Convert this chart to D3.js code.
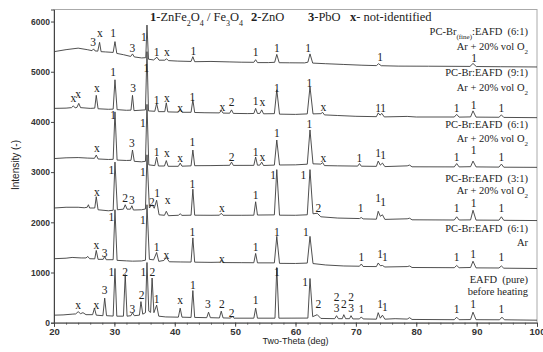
<!DOCTYPE html>
<html>
<head>
<meta charset="utf-8">
<script src="https://cdn.jsdelivr.net/npm/d3@7"></script>
<style>
  body { margin: 0; background: #fff; }
  svg { display: block; }
</style>
</head>
<body>
<svg id="chart" width="543" height="352"></svg>
<script>
// XRD patterns, [2-theta (deg), intensity]
const fine61O2 = [[20,5400],[22,5440],[24,5470],[25.5,5440],[26.3,5420],[26.55,5455],[26.8,5415],[27.25,5410],[27.55,5585],[27.8,5400],[28.5,5395],[29.8,5385],[30.1,5600],[30.4,5365],[31.5,5340],[32.7,5305],[33,5355],[33.3,5295],[34.5,5275],[35.2,5280],[35.4,5930],[35.65,5250],[36.5,5235],[37.05,5290],[37.4,5230],[38.35,5230],[38.65,5258],[38.95,5222],[40.5,5212],[42.7,5205],[43,5300],[43.3,5200],[46,5205],[49,5196],[51,5190],[53.1,5188],[53.4,5240],[53.7,5182],[55.5,5182],[56.55,5188],[56.9,5345],[57.3,5180],[59,5178],[61.5,5176],[62.05,5190],[62.4,5355],[62.85,5172],[65,5160],[68,5145],[71,5130],[73.4,5122],[73.75,5160],[74.2,5120],[77,5112],[82,5110],[88.9,5106],[89.4,5165],[89.95,5104],[94,5100],[100,5095]];

const br91O2 = [[20,4270],[22,4275],[22.9,4285],[23.2,4320],[23.5,4280],[23.8,4290],[24.1,4370],[24.4,4285],[26,4270],[26.75,4275],[27,4530],[27.3,4262],[29,4252],[29.8,4255],[30.1,4840],[30.45,4245],[32,4232],[32.75,4235],[33,4530],[33.25,4225],[35.15,4240],[35.4,5400],[35.65,4220],[36.7,4212],[37,4370],[37.3,4205],[38.35,4205],[38.6,4380],[38.85,4200],[40.6,4195],[40.9,4250],[41.2,4192],[42.7,4192],[43,4440],[43.3,4188],[45,4183],[47.4,4180],[47.7,4230],[48,4176],[49.1,4174],[49.4,4240],[49.7,4170],[52,4166],[53.1,4168],[53.4,4270],[53.7,4168],[54.1,4170],[54.4,4240],[54.7,4162],[56.5,4165],[56.9,4640],[57.35,4155],[60,4150],[61.95,4160],[62.4,4700],[62.9,4160],[64.2,4165],[64.5,4190],[64.8,4140],[67,4128],[70,4112],[73.4,4105],[73.7,4180],[74,4135],[74.3,4170],[74.7,4100],[78.5,4110],[80,4098],[86.3,4098],[86.7,4150],[87.1,4096],[89,4100],[89.4,4220],[89.9,4096],[93.7,4093],[94.1,4140],[94.5,4090],[100,4085]];

const br61O2 = [[20,3270],[22,3285],[24,3290],[25.5,3280],[26.7,3275],[27,3340],[27.3,3262],[29,3252],[29.8,3255],[30.1,4200],[30.45,3240],[32,3232],[32.75,3235],[33,3440],[33.3,3215],[34.5,3205],[35.15,3215],[35.4,4350],[35.7,3145],[36.7,3130],[37,3300],[37.3,3122],[38.3,3122],[38.6,3230],[38.9,3116],[40.6,3116],[40.9,3180],[41.2,3118],[42.7,3125],[43,3440],[43.3,3128],[46,3130],[48,3134],[49.1,3136],[49.4,3200],[49.7,3134],[53.1,3135],[53.4,3300],[53.7,3138],[54.1,3140],[54.4,3200],[54.7,3132],[56.5,3140],[56.9,3640],[57.35,3142],[60,3145],[61.95,3158],[62.4,3840],[62.9,3165],[64.2,3160],[64.5,3190],[64.8,3130],[67,3125],[70.3,3120],[70.6,3170],[70.9,3118],[73.4,3115],[73.7,3220],[74.05,3140],[74.4,3180],[74.8,3110],[78.5,3125],[78.9,3140],[79.3,3106],[86.3,3104],[86.7,3170],[87.1,3104],[89,3108],[89.4,3220],[89.9,3104],[93.7,3100],[94.1,3160],[94.5,3098],[100,3095]];

const br31O2 = [[20,2285],[22,2300],[24,2300],[25,2290],[25.5,2300],[25.7,2350],[25.9,2285],[26.75,2285],[27,2510],[27.3,2250],[29,2230],[29.8,2240],[30.1,3200],[30.5,2250],[31.5,2262],[31.8,2350],[32.1,2262],[32.65,2262],[32.9,2330],[33.15,2245],[34.5,2250],[35.15,2265],[35.4,3345],[35.8,2285],[36.25,2350],[36.6,2280],[37,2440],[37.4,2150],[38.3,2140],[38.6,2220],[38.95,2132],[40.6,2140],[40.9,2170],[41.2,2138],[42.7,2142],[43,2660],[43.3,2142],[46,2140],[47.4,2142],[47.7,2180],[48,2140],[51,2140],[53.1,2142],[53.4,2410],[53.7,2145],[56.5,2148],[56.9,3050],[57.35,2142],[60,2140],[61.95,2150],[62.4,3050],[62.9,2170],[63.6,2180],[64.2,2110],[67,2085],[70.6,2075],[70.9,2095],[71.2,2068],[73.4,2062],[73.7,2220],[74.05,2120],[74.4,2150],[74.8,2058],[78.5,2070],[78.9,2082],[79.3,2050],[86.3,2046],[86.7,2110],[87.1,2046],[89,2048],[89.4,2240],[89.9,2044],[93.7,2042],[94.1,2110],[94.5,2040],[100,2035]];

const br61Ar = [[20,1275],[22,1285],[23,1300],[24.5,1290],[25.3,1290],[25.6,1320],[25.9,1275],[26.75,1272],[27,1440],[27.3,1262],[28.15,1262],[28.4,1320],[28.65,1255],[29.8,1255],[30.1,2250],[30.45,1242],[32,1232],[33,1226],[34.5,1230],[35.15,1245],[35.4,2350],[35.8,1262],[36.5,1252],[37,1400],[37.35,1222],[38.2,1240],[38.6,1300],[39.1,1214],[41,1210],[42.7,1208],[43,1690],[43.3,1206],[46,1202],[47.4,1205],[47.7,1240],[48,1198],[51,1196],[53.1,1195],[53.4,1380],[53.7,1192],[56.5,1192],[56.9,1720],[57.35,1182],[60,1180],[61.95,1188],[62.4,1720],[62.9,1178],[65,1150],[68,1130],[70.6,1125],[70.9,1170],[71.2,1120],[73.4,1118],[73.7,1190],[74.05,1135],[74.4,1140],[74.8,1110],[78.5,1118],[78.9,1130],[79.3,1100],[86.3,1096],[86.7,1140],[87.1,1095],[89,1100],[89.4,1225],[89.9,1092],[93.7,1090],[94.1,1130],[94.5,1086],[100,1080]];

const eafdPure = [[20,150],[21.5,155],[23,170],[23.6,175],[24,220],[24.4,180],[24.8,200],[25.3,160],[26.4,160],[26.7,290],[27,150],[28.1,140],[28.4,490],[28.7,140],[29.8,132],[30.1,1080],[30.4,130],[31.5,130],[31.8,960],[32.1,130],[32.75,140],[33,200],[33.3,140],[34.15,150],[34.4,420],[34.7,170],[35.15,200],[35.4,1200],[35.7,230],[36,205],[36.25,890],[36.55,200],[37,350],[37.35,130],[38.5,115],[40.6,110],[40.9,290],[41.2,110],[42.7,105],[43,640],[43.3,105],[45.3,100],[45.6,210],[45.9,100],[47.4,95],[47.7,230],[48,95],[49.25,92],[49.5,130],[49.8,90],[53.1,90],[53.4,290],[53.7,90],[56.6,90],[56.9,1100],[57.25,90],[62.05,92],[62.4,880],[62.85,120],[63.6,160],[64.2,85],[66.5,80],[66.8,140],[67.1,80],[67.75,80],[68,160],[68.3,80],[68.95,80],[69.2,140],[69.5,75],[70.6,75],[70.9,115],[71.2,75],[73.4,70],[73.7,200],[74.05,90],[74.4,150],[74.8,70],[76.5,80],[78.5,72],[78.9,100],[79.3,65],[86.3,60],[86.7,110],[87.1,60],[89,62],[89.4,210],[89.9,60],[93.8,58],[94.2,110],[94.6,58],[100,50]];

const patterns = [fine61O2, br91O2, br61O2, br31O2, br61Ar, eafdPure];

// peak markers, [2-theta, intensity at label centre, phase]
const marks1 = [[26.5,5601,'3'],[27.6,5768,'x'],[29.8,5768,'1'],[33.0,5470,'3'],[34.9,5700,'1'],[37.0,5400,'1'],[38.7,5400,'x'],[43.1,5420,'1'],[53.4,5400,'1'],[56.9,5470,'1'],[62.1,5470,'1'],[74.0,5300,'1'],[89.6,5270,'1']];
const marks2 = [[23.2,4473,'x'],[24.0,4553,'x'],[27.1,4672,'x'],[29.8,5003,'1'],[33.1,4672,'3'],[35.3,5071,'1'],[37.0,4440,'1'],[38.7,4473,'x'],[40.9,4274,'x'],[42.9,4505,'1'],[47.9,4293,'x'],[49.4,4405,'2'],[53.4,4425,'1'],[54.5,4405,'x'],[56.9,4672,'1'],[62.3,4772,'1'],[64.6,4293,'x'],[73.7,4273,'1'],[74.5,4273,'1'],[86.7,4273,'1'],[89.5,4340,'1'],[94.1,4273,'1']];
const marks3 = [[27.1,3476,'x'],[29.8,4140,'1'],[32.9,3576,'3'],[34.7,3975,'1'],[37.0,3408,'1'],[38.7,3376,'x'],[40.9,3277,'x'],[42.9,3592,'1'],[49.4,3309,'2'],[53.4,3408,'1'],[54.5,3309,'x'],[56.9,3775,'1'],[62.3,3961,'1'],[64.6,3277,'x'],[70.6,3277,'1'],[73.7,3376,'1'],[74.5,3343,'1'],[86.7,3309,'1'],[89.5,3442,'1'],[94.1,3309,'1']];
const marks4 = [[27.1,2611,'x'],[29.5,3044,'1'],[31.8,2480,'2'],[32.9,2446,'3'],[34.7,3004,'1'],[36.2,2412,'2'],[37.1,2579,'1'],[38.8,2446,'x'],[42.9,2765,'1'],[47.8,2280,'x'],[53.4,2545,'1'],[56.3,2944,'1'],[61.3,2944,'1'],[63.8,2280,'2'],[70.8,2280,'1'],[73.7,2480,'1'],[74.5,2412,'1'],[86.7,2280,'1'],[89.5,2380,'1'],[94.1,2280,'1']];
const marks5 = [[27.0,1549,'x'],[28.4,1395,'3'],[29.5,2107,'1'],[34.7,2047,'1'],[37.0,1509,'1'],[38.6,1355,'x'],[42.9,1814,'1'],[47.8,1276,'x'],[53.4,1509,'1'],[56.9,1808,'1'],[61.7,1808,'1'],[70.9,1309,'1'],[74.0,1375,'1'],[74.8,1309,'1'],[86.7,1309,'1'],[89.4,1369,'1'],[94.1,1309,'1']];
const marks6 = [[24.0,353,'x'],[27.0,353,'x'],[28.4,652,'3'],[29.5,1011,'1'],[31.8,1011,'2'],[33.0,273,'3'],[34.5,552,'2'],[34.8,1011,'1'],[36.3,1011,'2'],[37.0,478,'1'],[40.9,452,'x'],[43.0,745,'1'],[45.5,379,'3'],[47.8,379,'2'],[49.4,193,'2'],[53.4,446,'1'],[56.9,1011,'1'],[61.6,811,'1'],[63.8,379,'2'],[66.8,515,'2'],[66.8,295,'3'],[68.0,379,'2'],[69.2,515,'2'],[69.2,295,'3'],[70.9,279,'1'],[74.0,379,'1'],[74.8,313,'1'],[86.7,279,'1'],[89.4,380,'1'],[94.1,279,'1']];
const marks = [marks1, marks2, marks3, marks4, marks5, marks6];

// sample captions: [first line, second line, intensity of line 1, intensity of line 2]
const captions = [
  ['PC-Br(fine):EAFD  (6:1)', 'Ar + 20% vol O2', 5800, 5501],
  ['PC-Br:EAFD  (9:1)', 'Ar + 20% vol O2', 4983, 4692],
  ['PC-Br:EAFD  (6:1)', 'Ar + 20% vol O2', 3961, 3675],
  ['PC-Br:EAFD  (3:1)', 'Ar + 20% vol O2', 2878, 2630],
  ['PC-Br:EAFD  (6:1)', 'Ar', 1882, 1609],
  ['EAFD  (pure)', 'before heating', 855, 630]
];

const xTicks = [20, 30, 40, 50, 60, 70, 80, 90, 100];
const yTicks = [0, 1000, 2000, 3000, 4000, 5000, 6000];

const margin = { top: 9.5, right: 6, bottom: 29.3, left: 54 };
const W = 543, H = 352;
const width = W - margin.left - margin.right;
const height = H - margin.top - margin.bottom;
const serif = '"Liberation Serif", "Times New Roman", serif';
const sans = '"Liberation Sans", Arial, sans-serif';

const svg = d3.select('#chart');
const g = svg.append('g')
  .attr('transform', 'translate(' + margin.left + ',' + margin.top + ')');

const x = d3.scaleLinear().domain([20, 100]).range([0, width]);
const y = d3.scaleLinear().domain([0, 6240]).range([height, 0]);

// frame
g.append('rect')
  .attr('width', width)
  .attr('height', height)
  .attr('fill', 'none')
  .attr('stroke', '#aaa')
  .attr('stroke-width', 1);

g.append('clipPath').attr('id', 'plotClip')
  .append('rect').attr('width', width).attr('height', height);

// minor ticks
const gMinor = g.append('g')
  .attr('transform', 'translate(0,' + height + ')')
  .call(d3.axisBottom(x).tickValues(d3.range(22, 100, 2)).tickSize(2).tickFormat(''));
gMinor.select('.domain').remove();
gMinor.selectAll('line').attr('stroke', '#666');

const gX = g.append('g')
  .attr('transform', 'translate(0,' + height + ')')
  .call(d3.axisBottom(x).tickValues(xTicks).tickSize(4).tickPadding(2));
gX.select('.domain').attr('stroke', '#444');
gX.selectAll('line').attr('stroke', '#444');
gX.selectAll('text')
  .style('font-family', sans)
  .style('font-size', '9.5px')
  .style('font-weight', 'bold')
  .attr('fill', '#333');

const gY = g.append('g')
  .call(d3.axisLeft(y).tickValues(yTicks).tickFormat(d3.format('d')).tickSize(3).tickPadding(1));
gY.select('.domain').attr('stroke', '#444');
gY.selectAll('line').attr('stroke', '#444');
gY.selectAll('text')
  .style('font-family', sans)
  .style('font-size', '8.5px')
  .style('font-weight', 'bold')
  .attr('fill', '#333');

// axis titles
svg.append('text')
  .attr('x', margin.left + width / 2)
  .attr('y', 344)
  .attr('text-anchor', 'middle')
  .style('font-family', sans)
  .style('font-size', '9px')
  .attr('fill', '#222')
  .text('Two-Theta (deg)');

svg.append('text')
  .attr('transform', 'translate(19,' + 165 + ') rotate(-90)')
  .attr('text-anchor', 'middle')
  .style('font-family', sans)
  .style('font-size', '10px')
  .attr('fill', '#222')
  .text('Intensity (-)');

// patterns
const line = d3.line().x(d => x(d[0])).y(d => y(d[1]));
g.append('g').attr('clip-path', 'url(#plotClip)')
  .selectAll('path')
  .data(patterns)
  .enter()
  .append('path')
  .attr('d', line)
  .attr('fill', 'none')
  .attr('stroke', '#3c3c3c')
  .attr('stroke-width', 0.9)
  .attr('stroke-linejoin', 'round');

// peak markers
g.append('g')
  .selectAll('text')
  .data(marks.flat())
  .enter()
  .append('text')
  .attr('x', d => x(d[0]))
  .attr('y', d => y(d[1]))
  .attr('dy', '0.35em')
  .attr('text-anchor', 'middle')
  .style('font-family', serif)
  .style('font-size', '11.5px')
  .attr('fill', '#222')
  .text(d => d[2]);

// sample captions
const cap = g.append('g').selectAll('g')
  .data(captions)
  .enter()
  .append('g');

function withSub(sel, str) {
  // O2 and (fine) are typeset as subscripts
  const m = str.match(/^(.*?)(\(fine\)|O2)(.*)$/);
  if (!m) { sel.text(str); return; }
  const isO2 = m[2] === 'O2';
  sel.append('tspan').text(isO2 ? m[1] + 'O' : m[1]);
  sel.append('tspan')
    .attr('baseline-shift', 'sub')
    .style('font-size', '7px')
    .text(isO2 ? '2' : m[2]);
  if (m[3]) sel.append('tspan').text(m[3]);
}

cap.append('text')
  .attr('x', 474)
  .attr('y', d => y(d[2]))
  .attr('dy', '0.35em')
  .attr('text-anchor', 'end')
  .style('font-family', serif)
  .style('font-size', '10.5px')
  .style('white-space', 'pre')
  .attr('fill', '#222')
  .each(function (d) { withSub(d3.select(this), d[0]); });

cap.append('text')
  .attr('x', 474)
  .attr('y', d => y(d[3]))
  .attr('dy', '0.35em')
  .attr('text-anchor', 'end')
  .style('font-family', serif)
  .style('font-size', '10.5px')
  .attr('fill', '#222')
  .each(function (d) { withSub(d3.select(this), d[1]); });

// phase legend along the top
const legend = svg.append('text')
  .attr('y', 21)
  .style('font-family', serif)
  .style('font-size', '12.5px')
  .attr('fill', '#222');

function legendItem(xPos, key, parts) {
  legend.append('tspan').attr('x', xPos).style('font-weight', 'bold').text(key);
  parts.forEach(p => {
    const t = legend.append('tspan').text(p[0]);
    if (p[1]) t.attr('baseline-shift', 'sub').style('font-size', '8px');
  });
}
legendItem(150, '1', [['-ZnFe'], ['2', 1], ['O'], ['4', 1], [' / Fe'], ['3', 1], ['O'], ['4', 1]]);
legendItem(251, '2', [['-ZnO']]);
legendItem(308, '3', [['-PbO']]);
legendItem(350, 'x', [['- not-identified']]);
</script>
</body>
</html>
